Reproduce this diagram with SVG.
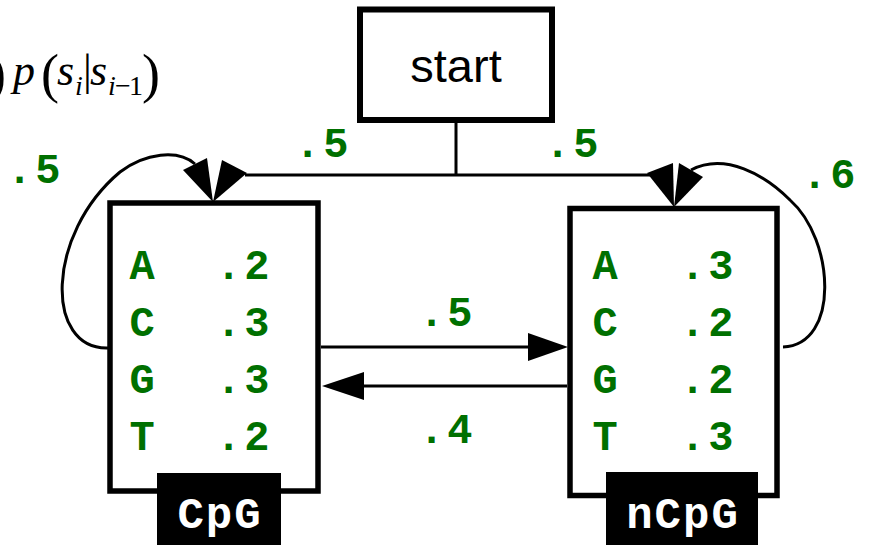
<svg xmlns="http://www.w3.org/2000/svg" width="869" height="545" viewBox="0 0 869 545">
<style>
.box{fill:#fff;stroke:#000;stroke-width:5.5}
.ln{fill:none;stroke:#000;stroke-width:3}
.ah{fill:#000}
.g{font-family:"Liberation Mono","DejaVu Sans Mono",monospace;font-weight:bold;font-size:42px;fill:#007000;letter-spacing:3px}
.gl{font-family:"Liberation Mono","DejaVu Sans Mono",monospace;font-weight:bold;font-size:42px;fill:#007000;text-anchor:middle}
.lbl{font-family:"Liberation Mono","DejaVu Sans Mono",monospace;font-weight:bold;font-size:44px;fill:#fff;letter-spacing:2px;text-anchor:middle}
.m{font-family:"Liberation Serif","Times New Roman",serif;fill:#000}
.big{font-size:54px}
.n{font-size:44px;font-style:italic}
.sub{font-size:28px}
</style>
<rect width="869" height="545" fill="#fff"/>
<g id="formula">
<text class="m"><tspan class="big" x="-12" y="92">)</tspan><tspan class="n" x="13" y="85">p</tspan><tspan class="big" x="41" y="92">(</tspan><tspan class="n" x="57" y="85">s</tspan><tspan class="sub" style="font-style:italic" x="75" y="95">i</tspan><tspan class="n" style="font-style:normal" x="83" y="85">|</tspan><tspan class="n" x="90" y="85">s</tspan><tspan class="sub" style="font-style:italic" x="108" y="95">i</tspan><tspan class="sub" x="115" y="95">−</tspan><tspan class="sub" x="129" y="95">1</tspan><tspan class="big" x="142" y="92">)</tspan></text>
</g>
<g id="connectors">
<path class="ln" d="M456,122 V175 M245,175 H650"/>
<path class="ln" d="M108,348 C45,350 45,235 120,172 C145,153 178,149 195,164"/>
<path class="ln" d="M783,347 C840,345 835,240 790,200 C765,175 725,152 691,170"/>
<path class="ln" d="M321,347 H530 M567,386 H362"/>
<polygon class="ah" points="183,170 207,158 213,202"/>
<polygon class="ah" points="222,160 247,173 213,202"/>
<polygon class="ah" points="647,173 673,163 674,207"/>
<polygon class="ah" points="679,163 703,177 674,207"/>
<polygon class="ah" points="568,347 528,333 528,361"/>
<polygon class="ah" points="322,386 364,372 364,400"/>
<text class="g" x="7" y="183">.5</text>
<text class="g" x="295" y="157">.5</text>
<text class="g" x="545" y="157">.5</text>
<text class="g" x="802" y="188">.6</text>
<text class="g" x="419" y="326">.5</text>
<text class="g" x="419" y="443">.4</text>
</g>
<g id="start">
<rect x="360" y="9.5" width="192" height="110.5" fill="#fff" stroke="#000" stroke-width="6"/>
<text x="456" y="82" text-anchor="middle" font-family="Liberation Sans, Arial, sans-serif" font-size="47">start</text>
</g>
<g id="CpG">
<rect class="box" x="110" y="203" width="208" height="288"/>
<text class="gl" x="142" y="279">A</text>
<text class="gl" x="142" y="336">C</text>
<text class="gl" x="142" y="393">G</text>
<text class="gl" x="142" y="450">T</text>
<text class="g" x="216" y="279">.2</text>
<text class="g" x="216" y="336">.3</text>
<text class="g" x="216" y="393">.3</text>
<text class="g" x="216" y="450">.2</text>
<rect x="157" y="473" width="124" height="72" fill="#000"/>
<text class="lbl" x="220" y="528">CpG</text>
</g>
<g id="nCpG">
<rect class="box" x="570" y="208.5" width="207" height="287"/>
<text class="gl" x="605" y="279">A</text>
<text class="gl" x="605" y="336">C</text>
<text class="gl" x="605" y="393">G</text>
<text class="gl" x="605" y="450">T</text>
<text class="g" x="680" y="279">.3</text>
<text class="g" x="680" y="336">.2</text>
<text class="g" x="680" y="393">.2</text>
<text class="g" x="680" y="450">.3</text>
<rect x="606" y="472" width="152" height="73" fill="#000"/>
<text class="lbl" x="683" y="528">nCpG</text>
</g>
</svg>
